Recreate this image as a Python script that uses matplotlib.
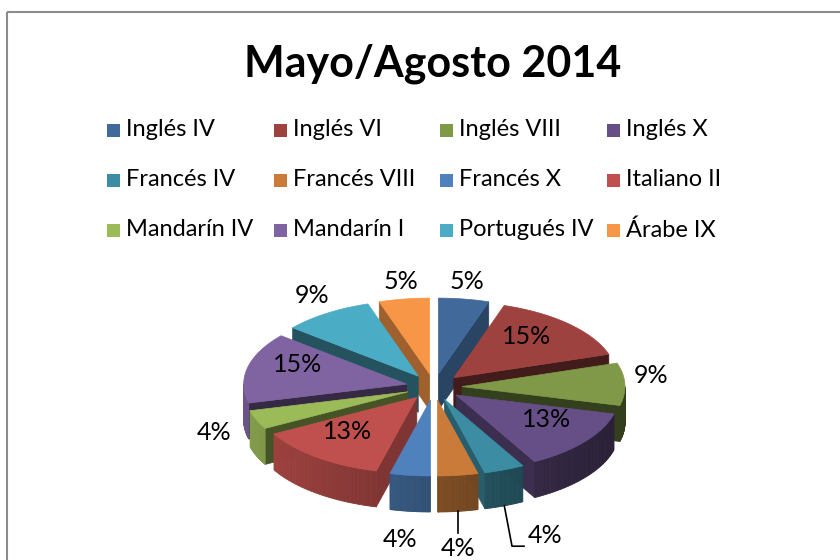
import numpy as np
import matplotlib
matplotlib.use("Agg")
import matplotlib.pyplot as plt
from matplotlib.patches import Polygon, Rectangle
from matplotlib import colors as mcolors

plt.rcParams['font.family'] = ['Lato', 'DejaVu Sans']

titulo = "Mayo/Agosto 2014"
cursos = ["Inglés IV", "Inglés VI", "Inglés VIII", "Inglés X",
          "Francés IV", "Francés VIII", "Francés X", "Italiano II",
          "Mandarín IV", "Mandarín I", "Portugués IV", "Árabe IX"]
porcentajes = [5, 15, 9, 13, 4, 4, 4, 13, 4, 15, 9, 5]
colores = ["#416A9B", "#9D423F", "#7F9949", "#664F86", "#3C8DA3", "#CA7B39",
           "#4F81BD", "#C0504D", "#9BBB59", "#8064A2", "#4BACC6", "#F79646"]
# posicion radial de cada etiqueta (<1 dentro, >1 fuera)
pos_etiqueta = [1.3, 0.8, 1.33, 0.87, 1.85, 1.77, 1.66, 0.87, 1.45, 0.86, 1.33, 1.3]
con_linea = [False, False, False, False, True, True, False, False, False, False, False, False]

fig = plt.figure(figsize=(8.4, 5.6), dpi=100)
ax = fig.add_axes([0, 0, 1, 1])
ax.set_xlim(0, 840)
ax.set_ylim(560, 0)
ax.axis('off')

# marco del grafico
ax.add_patch(Rectangle((7, 12), 900, 600, fill=False, edgecolor="#8C8C8C", lw=1.5))

ax.text(433, 64, titulo, fontsize=31, fontweight='bold', ha='center', va='center')

# leyenda 4 columnas
for i, (nom, col) in enumerate(zip(cursos, colores)):
    c, f = i % 4, i // 4
    x0 = 107 + c * 166.7
    y0 = 130 + f * 50
    ax.add_patch(Rectangle((x0, y0 - 6.5), 13, 13, facecolor=col, edgecolor='none'))
    ax.text(x0 + 19, y0, nom, fontsize=17, va='center', ha='left')

# pastel 3D
cx, cy = 434, 387
rx, ry = 163, 76
k = ry / rx
prof = 36
expl = 28

def punto(phi, r=1.0):
    return cx + r * rx * np.sin(phi), cy - r * ry * np.cos(phi)

def oscuro(col, f):
    r, g, b = mcolors.to_rgb(col)
    return (r * f, g * f, b * f)

tot = sum(porcentajes)
lim = np.cumsum([0] + porcentajes) / tot * 2 * np.pi
medios = (lim[:-1] + lim[1:]) / 2
orden = np.argsort(-np.cos(medios))

for i in orden:
    a1, a2, am = lim[i], lim[i + 1], medios[i]
    dx, dy = expl * np.sin(am), -expl * k * np.cos(am)
    col = colores[i]
    t = np.linspace(a1, a2, 60)
    xs = cx + dx + rx * np.sin(t)
    ys = cy + dy - ry * np.cos(t)
    px, py = cx + dx, cy + dy
    # caras radiales visibles (sombra segun orientacion)
    if np.sin(a1) < 0:
        f1 = 0.75 + 0.35 * np.cos(a1 - np.pi / 2)
        ax.add_patch(Polygon([(px, py), (xs[0], ys[0]), (xs[0], ys[0] + prof), (px, py + prof)],
                             facecolor=oscuro(col, f1), edgecolor=oscuro(col, f1), lw=0.5))
    if np.sin(a2) > 0:
        f2 = 0.75 + 0.35 * np.cos(a2 + np.pi / 2)
        ax.add_patch(Polygon([(px, py), (xs[-1], ys[-1]), (xs[-1], ys[-1] + prof), (px, py + prof)],
                             facecolor=oscuro(col, f2), edgecolor=oscuro(col, f2), lw=0.5))
    # lado exterior (solo la parte frontal)
    b1, b2 = max(a1, np.pi / 2), min(a2, 3 * np.pi / 2)
    if b2 > b1:
        tt = np.linspace(b1, b2, 30)
        for j in range(len(tt) - 1):
            seg = tt[j:j + 2]
            sx = cx + dx + rx * np.sin(seg)
            sy = cy + dy - ry * np.cos(seg)
            f = np.clip(0.62 - 0.22 * np.sin(seg.mean()), 0.3, 0.9)
            quad = [(sx[0], sy[0]), (sx[1], sy[1]), (sx[1], sy[1] + prof), (sx[0], sy[0] + prof)]
            ax.add_patch(Polygon(quad, facecolor=oscuro(col, f), edgecolor=oscuro(col, f), lw=0.6))
    # cara superior
    tapa = [(px, py)] + list(zip(xs, ys))
    ax.add_patch(Polygon(tapa, facecolor=col, edgecolor=col, lw=0.5))

# etiquetas
for i in range(len(porcentajes)):
    am = medios[i]
    r = pos_etiqueta[i]
    lx, ly = punto(am, r)
    ly -= 8
    if r > 1 and np.cos(am) < 0:
        ly += prof * (-np.cos(am))
    if con_linea[i]:
        ex = cx + (rx + expl) * np.sin(am)
        ey = cy - (ry + expl * k) * np.cos(am) + prof
        if abs(np.sin(am)) < 0.2:
            lx = ex
            ax.plot([ex, ex], [ey, ly - 15], color='black', lw=1.2)
        else:
            ly -= 8
            ax.plot([ex, lx - 33, lx - 21], [ey, ly + 11, ly + 11], color='black', lw=1.2)
    ax.text(lx, ly, f"{porcentajes[i]}%", fontsize=18, ha='center', va='center')

fig.savefig("out.png", dpi=100)
